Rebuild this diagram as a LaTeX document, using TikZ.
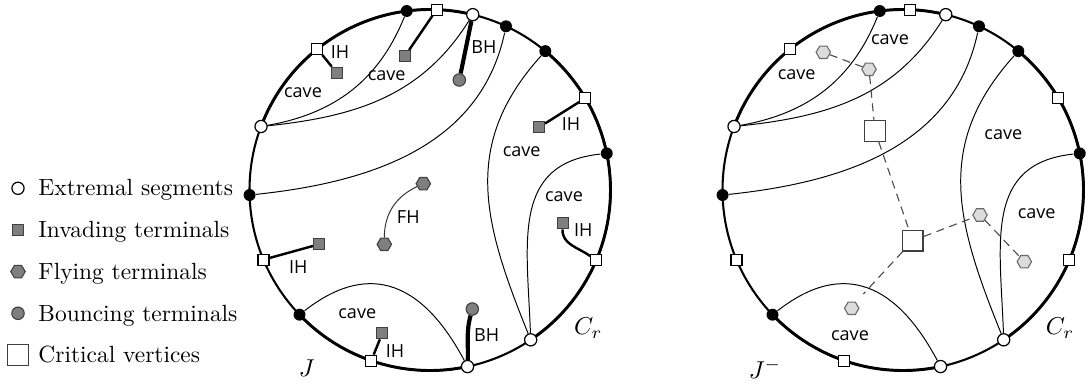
\documentclass[tikz,border=0pt]{standalone}
\usepackage{fontspec}
\usepackage{xcolor}
\usepackage{tikz}
\usetikzlibrary{positioning, shapes.geometric}
\usetikzlibrary{calc}
\newfontfamily\labelsf{Open Sans}
\definecolor{termgray}{HTML}{7F7F7F}
\definecolor{termedge}{HTML}{404040}
\definecolor{flylight}{HTML}{DCDCDC}
\definecolor{flyedge}{HTML}{6A6A6A}
\definecolor{linkgray}{HTML}{4A4A4A}
\tikzstyle{ext} = [circle, draw=black, fill=white, inner sep=0pt, minimum size=5pt, line width=0.5pt]
\tikzstyle{blk} = [circle, fill=black, inner sep=0pt, minimum size=4.9pt]
\tikzstyle{sq} = [rectangle, draw=black, fill=white, inner sep=0pt, minimum size=4.5pt, line width=0.45pt]
\tikzstyle{inv} = [rectangle, draw=termedge, fill=termgray, inner sep=0pt, minimum size=4.5pt, line width=0.45pt]
\tikzstyle{bnc} = [circle, draw=termedge, fill=termgray, inner sep=0pt, minimum size=5.1pt, line width=0.45pt]
\tikzstyle{fly} = [regular polygon, regular polygon sides=6, draw=termedge, fill=termgray, inner sep=0pt, minimum size=5.9pt, line width=0.45pt]
\tikzstyle{flylt} = [regular polygon, regular polygon sides=6, draw=flyedge, fill=flylight, inner sep=0pt, minimum size=5.9pt, line width=0.45pt]
\tikzstyle{crit} = [rectangle, draw=black!75, fill=white, inner sep=0pt, minimum size=8.5pt, line width=0.5pt]
\tikzstyle{rim} = [line width=0.85pt]
\tikzstyle{rimthick} = [line width=1.2pt]
\tikzstyle{chord} = [line width=0.4pt]
\tikzstyle{hair} = [line width=1pt]
\tikzstyle{bounce} = [line width=1.7pt]
\tikzstyle{link} = [draw=linkgray, line width=0.45pt, dash pattern=on 3.3pt off 2.3pt]
\tikzstyle{lab} = [inner sep=0pt, font=\labelsf\fontsize{7.4pt}{8pt}\selectfont]
\tikzstyle{mlab} = [inner sep=0pt, font=\fontsize{9.6pt}{11pt}\selectfont]
\tikzstyle{leg} = [anchor=base west, inner sep=0pt, font=\fontsize{9.6pt}{11pt}\selectfont]

\begin{document}
\begin{tikzpicture}[x=0.0144cm, y=0.0144cm, node distance=0.6cm]
		\useasboundingbox (0,0) rectangle (1089,385);
		% legend
		\node (lg1) [ext] at (18,196.7) {};
		\node (lg2) [inv, below of=lg1] {};
		\node (lg3) [fly, below of=lg2] {};
		\node (lg4) [bnc, below of=lg3] {};
		\node (lg5) [crit, below of=lg4] {};
		\node (lt1) [leg] at ($(lg1)+(20,-7)$) {Extremal segments};
		\node (lt2) [leg] at ($(lg2)+(20,-8)$) {Invading terminals};
		\node (lt3) [leg] at ($(lg3)+(20,-8)$) {Flying terminals};
		\node (lt4) [leg] at ($(lg4)+(20,-8)$) {Bouncing terminals};
		\node (lt5) [leg] at ($(lg5)+(20,-8)$) {Critical vertices};

		% left circle J
		\coordinate (lc) at (430,195);
		\draw [rim] (lc) circle[radius=180.5];
		\draw [rimthick] ($(lc)+(159.4:180.5)$) arc[start angle=159.4, end angle=76.3, radius=180.5];
		\draw [rimthick] ($(lc)+(50.3:180.5)$) arc[start angle=50.3, end angle=-56.1, radius=180.5];
		\draw [rimthick] ($(lc)+(223.7:180.5)$) arc[start angle=223.7, end angle=282, radius=180.5];
		\node (lA1) [blk] at ($(lc)+(97.4:180.5)$) {};
		\node (lS1) [sq] at ($(lc)+(87.9:180.5)$) {};
		\node (lW1) [ext] at ($(lc)+(76.3:180.5)$) {};
		\node (lA2) [blk] at ($(lc)+(65.1:180.5)$) {};
		\node (lA3) [blk] at ($(lc)+(50.3:180.5)$) {};
		\node (lS2) [sq] at ($(lc)+(30.6:180.5)$) {};
		\node (lA4) [blk] at ($(lc)+(11.7:180.5)$) {};
		\node (lS3) [sq] at ($(lc)+(-22.9:180.5)$) {};
		\node (lW2) [ext] at ($(lc)+(-56.1:180.5)$) {};
		\node (lW3) [ext] at ($(lc)+(-78:180.5)$) {};
		\node (lS4) [sq] at ($(lc)+(-109:180.5)$) {};
		\node (lA5) [blk] at ($(lc)+(223.7:180.5)$) {};
		\node (lS5) [sq] at ($(lc)+(202.7:180.5)$) {};
		\node (lA6) [blk] at ($(lc)+(181.6:180.5)$) {};
		\node (lW4) [ext] at ($(lc)+(159.4:180.5)$) {};
		\node (lS6) [sq] at ($(lc)+(128.6:180.5)$) {};
		\node (lT1) [inv] at (336.7,312.3) {};
		\node (lT2) [inv] at (405,329) {};
		\node (lT3) [inv] at (539,257.7) {};
		\node (lT4) [inv] at (319,140.7) {};
		\node (lT5) [inv] at (382.3,51.7) {};
		\node (lT6) [inv] at (562.7,161.7) {};
		\node (lP1) [bnc] at (459.3,305) {};
		\node (lP2) [bnc] at (472.3,76) {};
		\node (lH1) [fly] at (423.3,201.3) {};
		\node (lH2) [fly] at (384.3,140.7) {};
		\draw [chord] (lW4) to[out=10, in=248] (lA1);
		\draw [chord] (lW4) to[out=6, in=238] (lW1);
		\draw [chord] (lA6) to[out=6, in=258] (lA2);
		\draw [chord] (lA3) to[out=228, in=112, looseness=1.1] (lW2);
		\draw [chord] (lA4) to[out=186, in=92, looseness=1.2] (lW2);
		\draw [chord] (lA5) to[out=38, in=118, looseness=1.3] (lW3);
		\draw [chord, draw=black!80] (lH1) to[out=205, in=90] (lH2);
		\draw [hair] (lS6) -- (lT1);
		\draw [hair] (lS1) -- (lT2);
		\draw [hair] (lS2) -- (lT3);
		\draw [hair] (lS5) -- (lT4);
		\draw [hair] (lS4) -- (lT5);
		\draw [hair] (lT6) to[out=268, in=145] (lS3);
		\draw [bounce] (lW1) -- (lP1);
		\draw [bounce] (lP2) to[out=255, in=88] (lW3);
		\node (lc1) [lab] at (303,292) {cave};
		\node (lc2) [lab] at (386.7,309) {cave};
		\node (lc3) [lab] at (521.7,233) {cave};
		\node (lc4) [lab] at (564,188.3) {cave};
		\node (lc5) [lab] at (357.3,71.7) {cave};
		\node (li1) [lab] at (340,333.3) {IH};
		\node (li2) [lab] at (571,261) {IH};
		\node (li3) [lab] at (298.3,117.7) {IH};
		\node (li4) [lab] at (583.3,155) {IH};
		\node (li5) [lab] at (395,34.3) {IH};
		\node (lb1) [lab] at (484,338) {BH};
		\node (lb2) [lab] at (486.7,50) {BH};
		\node (lf1) [lab] at (408.3,167.7) {FH};
		\node (lJ) [mlab] at (306.7,16.7) {$J$};
		\node (lC) [mlab] at (588.3,56.7) {$C_r$};

		% right circle J^-
		\coordinate (rc) at (903,195);
		\draw [rim] (rc) circle[radius=180.5];
		\draw [rimthick] ($(rc)+(159.4:180.5)$) arc[start angle=159.4, end angle=76.3, radius=180.5];
		\draw [rimthick] ($(rc)+(50.3:180.5)$) arc[start angle=50.3, end angle=-56.1, radius=180.5];
		\draw [rimthick] ($(rc)+(223.7:180.5)$) arc[start angle=223.7, end angle=282, radius=180.5];
		\node (rA1) [blk] at ($(rc)+(97.4:180.5)$) {};
		\node (rS1) [sq] at ($(rc)+(87.9:180.5)$) {};
		\node (rW1) [ext] at ($(rc)+(76.3:180.5)$) {};
		\node (rA2) [blk] at ($(rc)+(65.1:180.5)$) {};
		\node (rA3) [blk] at ($(rc)+(50.3:180.5)$) {};
		\node (rS2) [sq] at ($(rc)+(30.6:180.5)$) {};
		\node (rA4) [blk] at ($(rc)+(11.7:180.5)$) {};
		\node (rS3) [sq] at ($(rc)+(-22.9:180.5)$) {};
		\node (rW2) [ext] at ($(rc)+(-56.1:180.5)$) {};
		\node (rW3) [ext] at ($(rc)+(-78:180.5)$) {};
		\node (rS4) [sq] at ($(rc)+(-109:180.5)$) {};
		\node (rA5) [blk] at ($(rc)+(223.7:180.5)$) {};
		\node (rS5) [sq] at ($(rc)+(202.7:180.5)$) {};
		\node (rA6) [blk] at ($(rc)+(181.6:180.5)$) {};
		\node (rW4) [ext] at ($(rc)+(159.4:180.5)$) {};
		\node (rS6) [sq] at ($(rc)+(128.6:180.5)$) {};
		\draw [chord] (rW4) to[out=10, in=248] (rA1);
		\draw [chord] (rW4) to[out=6, in=238] (rW1);
		\draw [chord] (rA6) to[out=6, in=258] (rA2);
		\draw [chord] (rA3) to[out=228, in=112, looseness=1.1] (rW2);
		\draw [chord] (rA4) to[out=186, in=92, looseness=1.2] (rW2);
		\draw [chord] (rA5) to[out=38, in=118, looseness=1.3] (rW3);
		\node (rH1) [flylt] at (823.3,332.7) {};
		\node (rH2) [flylt] at (869,315.7) {};
		\node (rH3) [flylt] at (980,170) {};
		\node (rH4) [flylt] at (1024.3,123.3) {};
		\node (rH5) [flylt] at (851.7,76.7) {};
		\node (rQ1) [crit] at (875,254) {};
		\node (rQ2) [crit] at (912.7,144.3) {};
		\coordinate (rK) at (863.3,91);
		\draw [link] (rH1) -- (rH2);
		\draw [link] (rH2) -- (rQ1);
		\draw [link] (rQ1) -- (rQ2);
		\draw [link] (rQ2) -- (rH3);
		\draw [link] (rH3) -- (rH4);
		\draw [link] (rQ2) -- (rK);
		\node (rc1) [lab] at (890,345) {cave};
		\node (rc2) [lab] at (796.7,310) {cave};
		\node (rc3) [lab] at (1003.3,250) {cave};
		\node (rc4) [lab] at (1036.7,171.7) {cave};
		\node (rc5) [lab] at (850,49) {cave};
		\node (rJ) [mlab] at (765,16.7) {$J^-$};
		\node (rC) [mlab] at (1060,56.7) {$C_r$};
	\end{tikzpicture}
\end{document}
